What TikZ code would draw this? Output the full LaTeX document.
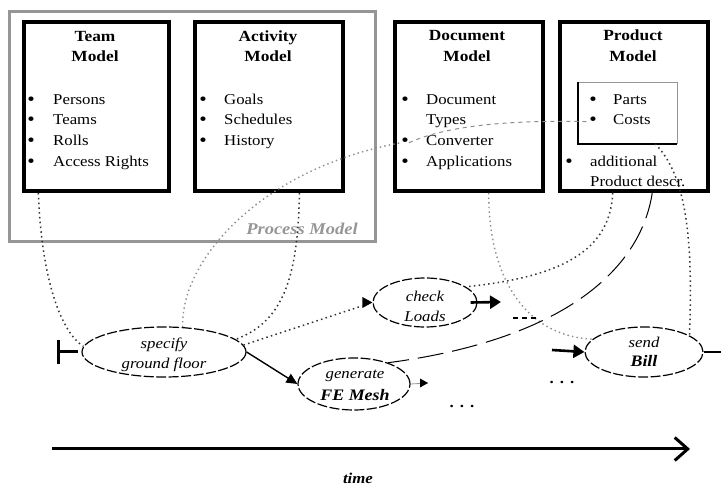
\documentclass[tikz,border=0pt]{standalone}
\usepackage{fontspec}
\setmainfont{Liberation Serif}[FakeStretch=1.12]
\usetikzlibrary{shapes.geometric,arrows.meta,calc}

\definecolor{framegray}{RGB}{150,150,150}
\definecolor{linkgray}{RGB}{140,140,140}
\definecolor{linkdark}{RGB}{50,50,50}

\tikzset{
  modelbox/.style={draw, line width=4pt, minimum width=148pt, minimum height=169pt, inner sep=0pt},
  processframe/.style={draw=framegray, line width=3pt, minimum width=366pt, minimum height=230pt, inner sep=0pt},
  subbox/.style={draw=framegray, line width=0.6pt, inner sep=0pt},
  title/.style={font=\fontsize{15.5}{18}\selectfont\bfseries, anchor=base, inner sep=0pt},
  entry/.style={font=\fontsize{15}{18}\selectfont, anchor=base west, inner sep=0pt},
  bul/.style={font=\fontsize{19}{18}\selectfont, anchor=base, inner sep=0pt, yshift=-1pt},
  task/.style={draw, ellipse, line width=1.2pt, dash pattern=on 10pt off 2.5pt, inner sep=0pt},
  tasktext/.style={font=\fontsize{15}{18}\selectfont\itshape, anchor=base, inner sep=0pt},
  taskbold/.style={font=\fontsize{16}{18}\selectfont\bfseries\itshape, anchor=base, inner sep=0pt},
  linkdots/.style={draw=linkdark, line width=1.5pt, dash pattern=on 1.5pt off 3.3pt},
  linklight/.style={draw=linkgray, line width=1.4pt, dash pattern=on 1.4pt off 3.2pt},
  linkdash/.style={draw=linkgray, line width=1pt, dash pattern=on 4pt off 4pt},
  flow/.style={draw, line width=1.4pt, -{Triangle[length=11pt,width=10pt]}},
  heavyflow/.style={draw, line width=2.6pt, -{Triangle[length=11pt,width=13pt]}},
}

\begin{document}
\begin{tikzpicture}[x=1pt,y=-1pt]
\useasboundingbox (0,0) rectangle (721,486);

% process model frame around team and activity models
\node[processframe] (process) at (192,126.5) {};
\node[font=\fontsize{16.5}{18}\selectfont\bfseries\itshape, text=framegray, anchor=base, inner sep=0pt] (processT) at (302,235) {Process Model};

% model boxes
\node[modelbox, minimum width=145pt] (team) at (96.5,106.5) {};
\node[modelbox] (activity) at (269,106.5) {};
\node[modelbox] (document) at (469,106.5) {};
\node[modelbox] (product) at (634,106.5) {};

% team model
\node[title] (teamT1) at (95,42) {Team};
\node[title] (teamT2) at (95,62) {Model};
\node[bul] (tmB1) at (31,105) {•};
\node[bul] (tmB2) at (31,125) {•};
\node[bul] (tmB3) at (31,146) {•};
\node[bul] (tmB4) at (31,167) {•};
\node[entry] (tmI1) at (53,105) {Persons};
\node[entry] (tmI2) at (53,125) {Teams};
\node[entry] (tmI3) at (53,146) {Rolls};
\node[entry] (tmI4) at (53,167) {Access Rights};

% activity model
\node[title] (actT1) at (268,42) {Activity};
\node[title] (actT2) at (268,62) {Model};
\node[bul] (acB1) at (203,105) {•};
\node[bul] (acB2) at (203,125) {•};
\node[bul] (acB3) at (203,146) {•};
\node[entry] (acI1) at (224,105) {Goals};
\node[entry] (acI2) at (224,125) {Schedules};
\node[entry] (acI3) at (224,146) {History};

% document model
\node[title] (docT1) at (467,41) {Document};
\node[title] (docT2) at (467,62) {Model};
\node[bul] (dcB1) at (405,105) {•};
\node[bul] (dcB3) at (405,146) {•};
\node[bul] (dcB4) at (405,167) {•};
\node[entry] (dcI1) at (426,105) {Document};
\node[entry] (dcI2) at (426,125) {Types};
\node[entry] (dcI3) at (426,146) {Converter};
\node[entry] (dcI4) at (426,167) {Applications};

% product model
\node[title] (prdT1) at (633,41) {Product};
\node[title] (prdT2) at (633,62) {Model};
\node[subbox, minimum width=98.5pt, minimum height=61.5pt] (parts) at (627.75,112.75) {};
\draw[line width=2pt] (parts.north west) -- (parts.south west) -- (parts.south east);
\node[bul] (pdB1) at (593,105) {•};
\node[bul] (pdB2) at (593,125) {•};
\node[bul] (pdB3) at (569,167) {•};
\node[entry] (pdI1) at (613,105) {Parts};
\node[entry] (pdI2) at (613,125) {Costs};
\node[entry] (pdI3) at (590,167) {additional};
\node[entry] (pdI4) at (590,187) {Product descr.};

% activities along the time line
\node[task, minimum width=164pt, minimum height=50pt] (specify) at (164,352) {};
\node[tasktext] (specifyT1) at (164,349) {specify};
\node[tasktext] (specifyT2) at (164,369) {ground floor};

\node[task, minimum width=112pt, minimum height=52pt] (generate) at (354,384) {};
\node[tasktext] (generateT1) at (355,379) {generate};
\node[taskbold] (generateT2) at (355,401) {FE Mesh};

\node[task, minimum width=104pt, minimum height=49pt] (check) at (425,302.5) {};
\node[tasktext] (checkT1) at (425,302) {check};
\node[tasktext] (checkT2) at (425,322) {Loads};

\node[task, minimum width=118pt, minimum height=50pt] (bill) at (644,352) {};
\node[tasktext] (billT1) at (644,348) {send};
\node[taskbold] (billT2) at (644,367) {Bill};

\node[font=\fontsize{15}{18}\selectfont\bfseries, anchor=base, inner sep=0pt] (moreA) at (462,408) {.\hspace{6pt}.\hspace{6pt}.};
\node[font=\fontsize{15}{18}\selectfont\bfseries, anchor=base, inner sep=0pt] (moreB) at (562,384) {.\hspace{6pt}.\hspace{6pt}.};

% free ends of the flow
\coordinate (startBar) at (58,352);
\coordinate (startEnd) at (78,352);
\coordinate (genOut) at (428,383);
\coordinate (checkOut) at (501,302);
\coordinate (billIn) at (552,350);
\coordinate (billOut) at (721,352);
\coordinate (dashA) at (513,318);
\coordinate (dashB) at (537,318);
\coordinate (timeStart) at (52,449);
\coordinate (timeEnd) at (690,449);

% start marker
\draw[line width=3pt] ($(startBar)+(0,-12)$) -- ($(startBar)+(0,12)$);
\draw[line width=3pt] (startBar) -- (startEnd);

% control flow
\draw[flow] (specify.east) -- (generate.west);
\draw[linkdots] (specify.5) -- ($(specify.5)!0.92!(check.west)$);
\path[fill=black] (check.west) -- ++(-10,-5.5) -- ++(0,11) -- cycle;
\draw[heavyflow] ([xshift=-7pt]check.east) -- (checkOut);
\draw[draw=framegray, line width=0.8pt] (generate.east) -- (genOut);
\fill (genOut) -- ++(-8,-4.5) -- ++(0,9) -- cycle;
\draw[heavyflow] (billIn) -- (bill.west);
\draw[line width=2.4pt] (bill.east) -- (billOut);

% links between the models and the activities
\draw[linkdots] ($(team.south west)!0.11!(team.south east)$) .. controls (41,270) and (58,330) .. (specify.176);
\draw[linkdots] ($(activity.south west)!0.7!(activity.south east)$) .. controls (298,280) and (282,322) .. (specify.10);
\draw[linklight] (specify.53) .. controls (180,260) and (262,168) .. (dcB3.west);
\draw[linkdash] (dcB3.east) .. controls (450,124) and (520,120) .. (pdB2.west);
\draw[linklight] ($(document.south west)!0.63!(document.south east)$) .. controls (488,272) and (522,336) .. (bill.166);
\draw[linkdots] ($(product.south west)!0.36!(product.south east)$) .. controls (610,252) and (560,277) .. (check.21);
\draw[line width=1pt, dash pattern=on 26pt off 9pt] ($(product.south west)!0.62!(product.south east)$) .. controls (640,272) and (560,340) .. (generate.32.5);
\draw[linkdots] ([xshift=-22pt]parts.south east) .. controls (682,172) and (694,222) .. (bill.20);
\draw[line width=1.2pt, dash pattern=on 5pt off 4pt] (dashA) -- (dashB);

% time axis
\draw[line width=3pt, -{Straight Barb[length=13pt,width=23pt,line width=3pt]}] (timeStart) -- (timeEnd);
\node[font=\fontsize{15}{18}\selectfont\bfseries\itshape, anchor=base, inner sep=0pt] (timeT) at (358,484) {time};
\end{tikzpicture}
\end{document}
